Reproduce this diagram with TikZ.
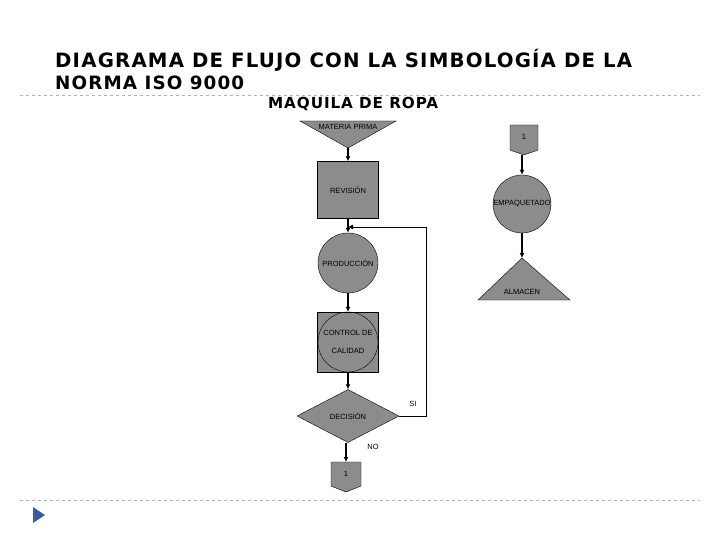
\documentclass[tikz,border=0pt]{standalone}
\usepackage{fontspec}
\setmainfont{Liberation Sans}
\newfontfamily\titlefont[LetterSpace=6]{DejaVu Sans}
\usetikzlibrary{shapes,arrows,positioning,calc,arrows.meta}
\definecolor{boxgray}{RGB}{140,140,140}
\definecolor{slideblue}{RGB}{60,90,160}
\begin{document}
\begin{tikzpicture}[
    x=1pt, y=-1pt,
    every node/.style={font=\fontsize{7.5}{9}\selectfont},
    shapebox/.style={draw, fill=boxgray},
    flow/.style={-{Latex[length=5pt,width=5pt]}, line width=1.4pt},
    loop/.style={line width=0.8pt}
]
    \useasboundingbox (0,0) rectangle (720,540);
    % Titulo
    \node[anchor=west, inner sep=0pt] (title1) at (55,60) {\resizebox{577pt}{!}{\titlefont\bfseries DIAGRAMA DE FLUJO CON LA SIMBOLOGÍA DE LA}};
    \node[anchor=west, inner sep=0pt] (title2) at (55,83) {\resizebox{189pt}{!}{\titlefont\bfseries NORMA ISO 9000}};
    \node[anchor=west, inner sep=0pt] (subtitle) at (268,104) {\resizebox{170pt}{!}{\titlefont\bfseries MAQUILA DE ROPA}};
    \draw[gray!60, dashed] (20,95) -- (700,95);
    \draw[gray!60, dashed] (20,500) -- (700,500);
    \fill[slideblue] (33,507) -- (45,515) -- (33,523) -- cycle;

    % Columna izquierda
    \draw[shapebox] (300,121) -- (396,121) -- (348,148) -- cycle;
    \coordinate (mpb) at (348,148);
    \node (mp) at (348,127) {MATERIA PRIMA};
    \node[shapebox, rectangle, minimum width=61pt, minimum height=57pt] (rev) at (348,190) {REVISIÓN};
    \node[shapebox, circle, minimum size=60pt, inner sep=0pt] (prod) at (348,263) {PRODUCCIÓN};
    \node[shapebox, rectangle, minimum width=61pt, minimum height=60pt] (ctrl) at (348,342) {};
    \node[draw, circle, minimum size=60pt, inner sep=0pt, align=center] (ctrlc) at (348,342) {CONTROL DE\\[9pt]CALIDAD};
    \node[shapebox, diamond, minimum width=102pt, minimum height=53pt, inner sep=0pt] (dec) at (348,416) {DECISIÓN};
    \draw[shapebox] (331,462) -- (361,462) -- (361,486) -- (346,492) -- (331,486) -- cycle;
    \coordinate (con1t) at (346,462);
    \node (con1) at (346,474) {1};

    \draw[flow] (mpb) -- (rev);
    \draw[flow] (rev) -- (prod);
    \draw[flow] (prod) -- (ctrl);
    \draw[flow] (ctrl) -- (dec);
    \draw[flow] (dec.south -| con1t) -- (con1t);
    \coordinate (loopin) at (348,227);
    \draw[loop, -{Latex[length=5pt,width=5pt]}] (dec.east) -- (426,416) -- (426,227) -- (loopin);
    \node (si) at (413,404) {SI};
    \node (no) at (373,447) {NO};

    % Columna derecha
    \draw[shapebox] (510,125) -- (538,125) -- (538,150) -- (524,155) -- (510,150) -- cycle;
    \coordinate (con2b) at (524,155);
    \node (con2) at (524,137) {1};
    \node[shapebox, circle, minimum size=58pt, inner sep=0pt] (emp) at (522,204) {};
    \node (empl) at (522,204) {EMPAQUETADO};
    \draw[shapebox] (522,258) -- (570,300) -- (478,300) -- cycle;
    \coordinate (almt) at (522,258);
    \node (alm) at (522,292) {ALMACEN};

    \draw[flow] (con2b -| emp) -- (emp);
    \draw[flow] (emp) -- (almt);
\end{tikzpicture}
\end{document}
